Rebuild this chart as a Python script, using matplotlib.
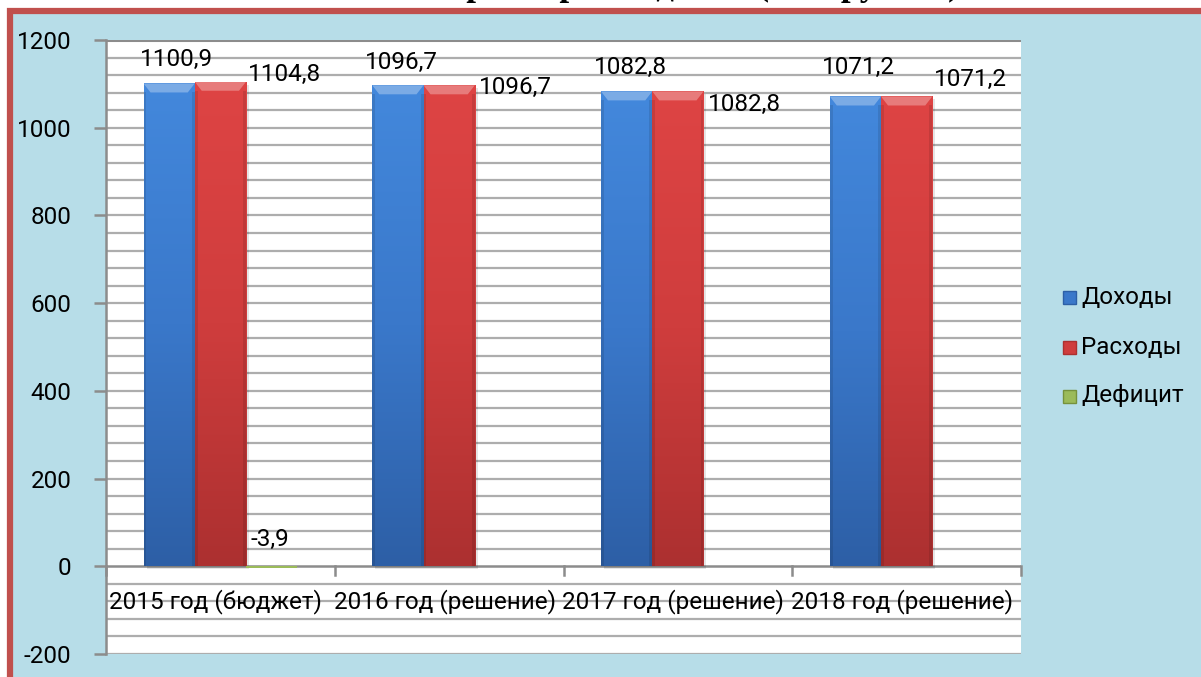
import numpy as np
import matplotlib
matplotlib.use("Agg")
import matplotlib.pyplot as plt
from matplotlib.patches import Rectangle, Polygon

# ---------------- data ----------------
categories = ["2015 год (бюджет)", "2016 год (решение)", "2017 год (решение)", "2018 год (решение)"]
series_names = ["Доходы", "Расходы", "Дефицит"]
dohody = [1100.9, 1096.7, 1082.8, 1071.2]
rashody = [1104.8, 1096.7, 1082.8, 1071.2]
deficit = [-3.9, 0.0, 0.0, 0.0]
title_text = "Основные параметры бюджета (млн рублей)"

# ---------------- style ----------------
W, H, DPI = 1201, 677, 100
FONT = ["Roboto", "DejaVu Sans"]
FS = 17.5
bg_blue = "#B7DDE8"
border_red = "#C0504D"
colors = {
    "Доходы": ("#4388DC", "#3A78CA", "#2D5FA6"),
    "Расходы": ("#DE4444", "#CF3D3D", "#AC3030"),
    "Дефицит": ("#B5D46A", "#9BBB59", "#76923C"),
}
bar_w = 0.224
# label offsets in pixels (dx, dy) relative to the top-centre of the bar
lab_off_blue = [(7, 24), (3, 23), (4, 24), (3, 29)]
lab_off_red = [(64, 7), (66, -2), (67, -13), (64, 17)]
lab_off_def = [(-2, 27), None, None, None]

fig = plt.figure(figsize=(W / DPI, H / DPI), dpi=DPI)
fig.patch.set_facecolor("white")

def px(x, y):
    return x / W, 1 - y / H

# background blue panel with red border
bx, by = px(9.5, 11)
fig.patches.append(Rectangle((bx, -0.05), 1.1, by + 0.05, transform=fig.transFigure,
                             facecolor=bg_blue, edgecolor=border_red, linewidth=4.5, zorder=-5))

# title: as in the reference, only its lowest part shows at the top edge
tx, ty = px(610, -5)
fig.text(tx, ty, title_text, ha="center", va="baseline", fontsize=25,
         fontweight="bold", family=["Liberation Serif", "DejaVu Serif"], zorder=-4)

# axes
l, t = px(106, 40)
r, b = px(1021, 654)
ax = fig.add_axes([l, b, r - l, t - b])
ax.set_zorder(1)
ax.set_facecolor("white")
ax.set_xlim(-0.5, len(categories) - 0.5)
ax.set_ylim(-200, 1200)

# gridlines every 40
for g in np.arange(-200, 1201, 40):
    if g == 0:
        continue
    ax.axhline(g, color="#ADADAD", lw=1.6, zorder=1)
ax.axhline(1200, color="#8C8C8C", lw=2.2, zorder=1)

for s in ["top", "right", "bottom"]:
    ax.spines[s].set_visible(False)
ax.spines["left"].set_color("#8C8C8C")
ax.spines["left"].set_linewidth(1.8)
ax.set_yticks(np.arange(-200, 1201, 200))
ax.set_yticklabels([str(v) for v in np.arange(-200, 1201, 200)], family=FONT, fontsize=FS)
ax.tick_params(axis="y", length=9, width=1.8, color="#8C8C8C", pad=16)
ax.set_xticks([])

# category axis at 0
ax.axhline(0, color="#8C8C8C", lw=1.8, zorder=2)
per_px = 1400 / (654 - 40)
for k in range(len(categories) + 1):
    xb = k - 0.5
    ax.plot([xb, xb], [0, -9 * per_px], color="#8C8C8C", lw=1.8, zorder=2, clip_on=False)

for i, c in enumerate(categories):
    ax.text(i - 0.02, -35 * per_px, c, ha="center", va="center", family=FONT, fontsize=FS, zorder=3)

xpx = (len(categories)) / (1021 - 106)

def grad_bar(x0, val, key):
    top_c, mid_c, bot_c = colors[key]
    y0, y1 = (0, val) if val >= 0 else (val, 0)
    rect = Rectangle((x0, y0), bar_w, y1 - y0, facecolor=mid_c, edgecolor="none", zorder=4)
    ax.add_patch(rect)
    if abs(val) < 5:
        return
    cmap = matplotlib.colors.LinearSegmentedColormap.from_list("g", [bot_c, mid_c, top_c])
    grad = np.linspace(0, 1, 256).reshape(-1, 1)
    im = ax.imshow(grad, extent=(x0, x0 + bar_w, y0, y1), origin="lower", cmap=cmap,
                   aspect="auto", zorder=4.5, interpolation="bicubic")
    im.set_clip_path(rect)
    d = 7 * xpx
    h = 9 * per_px
    bev = Polygon([(x0, y1), (x0 + bar_w, y1), (x0 + bar_w - d, y1 - h), (x0 + d, y1 - h)],
                  closed=True, facecolor="white", alpha=0.30, edgecolor="none", zorder=5)
    ax.add_patch(bev)
    for xs in (x0, x0 + bar_w - d * 0.4):
        ax.add_patch(Rectangle((xs, y0), d * 0.4, y1 - y0 - h,
                               facecolor="black", alpha=0.10, edgecolor="none", zorder=5))
    ax.add_patch(Rectangle((x0 + 3 * xpx, y0 - 3 * per_px), bar_w, y1 - y0, facecolor="black",
                           alpha=0.10, edgecolor="none", zorder=3.5))

def fmt(v):
    return f"{v:.1f}".replace(".", ",")

all_series = [dohody, rashody, deficit]
offsets = [lab_off_blue, lab_off_red, lab_off_def]
for j, (name, vals) in enumerate(zip(series_names, all_series)):
    for i, v in enumerate(vals):
        xc = i + (j - 1) * bar_w
        grad_bar(xc - bar_w / 2, v, name)
        off = offsets[j][i]
        if off is not None:
            ax.text(xc + off[0] * xpx, max(v, 0) + off[1] * per_px, fmt(v), ha="center",
                    va="center", family=FONT, fontsize=FS, zorder=6)

# legend (manual)
leg_y = [297, 347, 396]
for name, yy in zip(series_names, leg_y):
    top_c, mid_c, bot_c = colors[name]
    sx, sy = px(1063, yy + 7)
    fig.patches.append(Rectangle((sx, sy), 13 / W, 13 / H, transform=fig.transFigure,
                                 facecolor=mid_c, edgecolor=bot_c, lw=1.0, zorder=3))
    lx, ly = px(1081, yy)
    fig.text(lx, ly, name, ha="left", va="center", family=FONT, fontsize=FS, zorder=3)

fig.savefig("out.png", dpi=DPI, facecolor=fig.get_facecolor())
